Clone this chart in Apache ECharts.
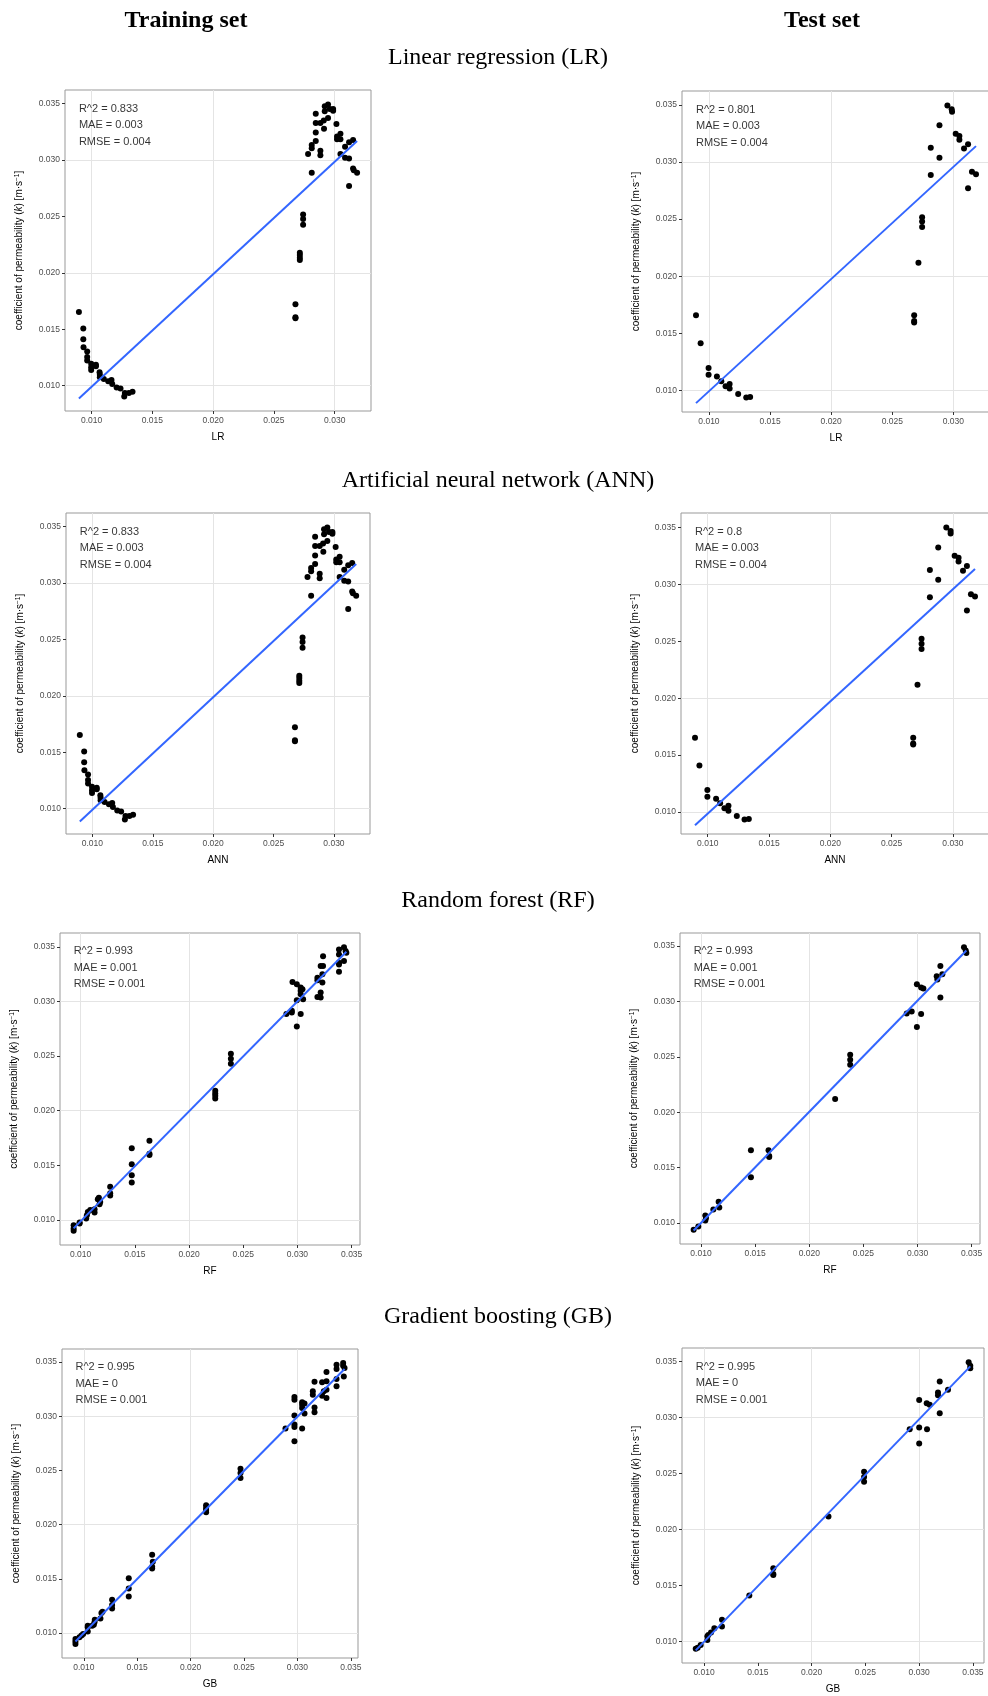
<!DOCTYPE html>
<html>
<head>
<meta charset="utf-8">
<script src="https://cdn.jsdelivr.net/npm/echarts@6/dist/echarts.min.js"></script>
<style>
  html, body { margin: 0; padding: 0; background: #fff; }
  #main { width: 988px; height: 1696px; }
</style>
</head>
<body>
<div id="main"></div>
<script>
// tick values (both axes), minor grid in between
const tickValues = [0.010, 0.015, 0.020, 0.025, 0.030, 0.035];
const minorValues = [0.0075, 0.0125, 0.0175, 0.0225, 0.0275, 0.0325, 0.0375];

const columnTitles = ['Training set', 'Test set'];
const rowTitles = ['Linear regression (LR)', 'Artificial neural network (ANN)', 'Random forest (RF)', 'Gradient boosting (GB)'];
const modelNames = ['LR', 'LR', 'ANN', 'ANN', 'RF', 'RF', 'GB', 'GB'];

// annotation values, train / test for each model
const r2Text = ['0.833', '0.801', '0.833', '0.8', '0.993', '0.993', '0.995', '0.995'];
const maeText = ['0.003', '0.003', '0.003', '0.003', '0.001', '0.001', '0', '0'];
const rmseText = ['0.004', '0.004', '0.004', '0.004', '0.001', '0.001', '0.001', '0.001'];

const fitLow = [0.00886, 0.00888, 0.00886, 0.00884, 0.00922, 0.00931, 0.00921, 0.00922];
const fitHigh = [0.03169, 0.03139, 0.03169, 0.03136, 0.03455, 0.03461, 0.03436, 0.03455];

// [predicted, observed]
const lrTrain = [
  [0.00896,0.01653],[0.00932,0.01507],[0.00932,0.01412],[0.00934,0.01340],[0.00964,0.01304],[0.00964,0.01254],[0.00964,0.01224],
  [0.00997,0.01194],[0.00997,0.01164],[0.00997,0.01140],[0.01036,0.01185],[0.01036,0.01173],[0.01066,0.01120],[0.01068,0.01096],
  [0.01068,0.01075],[0.01101,0.01060],[0.01137,0.01039],[0.01164,0.01051],[0.01170,0.01015],[0.01206,0.00985],[0.01238,0.00976],
  [0.01269,0.00905],[0.01274,0.00935],[0.01307,0.00935],[0.01337,0.00947],
  [0.02677,0.01722],[0.02677,0.01606],[0.02677,0.01597],[0.02713,0.02179],[0.02713,0.02158],[0.02713,0.02134],[0.02713,0.02113],
  [0.02740,0.02516],[0.02740,0.02477],[0.02740,0.02426],
  [0.02781,0.03053],[0.02811,0.02886],[0.02811,0.03133],[0.02811,0.03103],[0.02844,0.03169],[0.02844,0.03243],[0.02844,0.03327],
  [0.02844,0.03410],[0.02882,0.03327],[0.02882,0.03082],[0.02882,0.03041],[0.02910,0.03351],[0.02912,0.03276],[0.02918,0.03431],
  [0.02918,0.03476],[0.02945,0.03372],[0.02945,0.03491],[0.02959,0.03452],[0.02987,0.03452],[0.02987,0.03437],[0.03014,0.03318],
  [0.03019,0.03184],[0.03019,0.03208],[0.03047,0.03232],[0.03047,0.03184],[0.03047,0.03053],[0.03085,0.03118],[0.03085,0.03020],
  [0.03118,0.03157],[0.03118,0.03014],[0.03118,0.02769],[0.03151,0.03178],[0.03151,0.02924],[0.03157,0.02909],[0.03184,0.02886]
];
const lrTest = [
  [0.00894,0.01658],[0.00932,0.01412],[0.00997,0.01196],[0.00997,0.01136],[0.01065,0.01122],[0.01101,0.01080],[0.01136,0.01036],
  [0.01169,0.01056],[0.01169,0.01015],[0.01239,0.00967],[0.01305,0.00938],[0.01337,0.00941],
  [0.02679,0.01658],[0.02679,0.01607],[0.02679,0.01595],[0.02714,0.02117],[0.02744,0.02517],[0.02744,0.02478],[0.02744,0.02431],
  [0.02815,0.03124],[0.02815,0.02887],[0.02886,0.03322],[0.02886,0.03038],[0.02951,0.03494],[0.02986,0.03461],[0.02989,0.03441],
  [0.03019,0.03248],[0.03049,0.03227],[0.03049,0.03195],[0.03087,0.03118],[0.03120,0.03156],[0.03120,0.02771],[0.03152,0.02914],
  [0.03185,0.02893]
];
// ANN training panel shows the same points as LR
const annTrain = lrTrain;
const annTest = [
  [0.00896,0.01653],[0.00932,0.01409],[0.00997,0.01194],[0.00997,0.01134],[0.01068,0.01117],[0.01101,0.01078],[0.01136,0.01034],
  [0.01169,0.01054],[0.01169,0.01012],[0.01237,0.00964],[0.01300,0.00935],[0.01335,0.00938],
  [0.02676,0.01653],[0.02676,0.01603],[0.02676,0.01594],[0.02711,0.02119],[0.02744,0.02522],[0.02744,0.02480],[0.02744,0.02432],
  [0.02812,0.03127],[0.02812,0.02888],[0.02880,0.03324],[0.02880,0.03041],[0.02946,0.03500],[0.02981,0.03470],[0.02981,0.03449],
  [0.03014,0.03252],[0.03046,0.03234],[0.03046,0.03201],[0.03082,0.03121],[0.03114,0.03163],[0.03114,0.02772],[0.03147,0.02915],
  [0.03180,0.02894]
];
const rfTrain = [
  [0.00936,0.00900],[0.00936,0.00921],[0.00936,0.00952],[0.00991,0.00976],[0.00991,0.00967],[0.01052,0.01012],[0.01058,0.01043],
  [0.01067,0.01073],[0.01089,0.01091],[0.01129,0.01067],[0.01129,0.01097],[0.01159,0.01188],[0.01169,0.01203],[0.01175,0.01143],
  [0.01181,0.01164],[0.01273,0.01303],[0.01273,0.01243],[0.01273,0.01224],[0.01472,0.01655],[0.01472,0.01509],[0.01472,0.01409],
  [0.01472,0.01343],[0.01635,0.01724],[0.01635,0.01606],[0.01635,0.01594],[0.02242,0.02182],[0.02242,0.02158],[0.02242,0.02136],
  [0.02242,0.02112],[0.02386,0.02521],[0.02386,0.02476],[0.02386,0.02430],
  [0.02898,0.02885],[0.02948,0.02915],[0.02948,0.02900],[0.02954,0.03179],[0.02994,0.03158],[0.02994,0.03012],[0.02994,0.02770],
  [0.03030,0.03127],[0.03030,0.03097],[0.03030,0.03067],[0.03030,0.02885],[0.03046,0.03112],[0.03052,0.03021],[0.03184,0.03218],
  [0.03184,0.03194],[0.03184,0.03042],[0.03214,0.03082],[0.03214,0.03036],[0.03214,0.03324],[0.03236,0.03415],[0.03236,0.03324],
  [0.03230,0.03249],[0.03230,0.03173],[0.03383,0.03476],[0.03383,0.03430],[0.03383,0.03355],[0.03383,0.03339],[0.03383,0.03273],
  [0.03429,0.03497],[0.03429,0.03370],[0.03444,0.03461],[0.03451,0.03445]
];
const rfTest = [
  [0.00932,0.00937],[0.00975,0.00967],[0.01040,0.01066],[0.01040,0.01021],[0.01046,0.01045],[0.01114,0.01120],[0.01163,0.01192],
  [0.01169,0.01138],[0.01461,0.01656],[0.01461,0.01413],[0.01624,0.01656],[0.01630,0.01605],[0.01630,0.01596],[0.02239,0.02120],
  [0.02378,0.02518],[0.02378,0.02473],[0.02378,0.02428],[0.02900,0.02892],[0.02946,0.02910],[0.02994,0.03156],[0.02994,0.02770],
  [0.03033,0.02886],[0.03033,0.03126],[0.03054,0.03117],[0.03177,0.03228],[0.03183,0.03198],[0.03211,0.03320],[0.03211,0.03036],
  [0.03229,0.03246],[0.03429,0.03491],[0.03445,0.03461],[0.03451,0.03437]
];
const gbTrain = [
  [0.00922,0.00899],[0.00922,0.00921],[0.00922,0.00945],[0.00959,0.00961],[0.00978,0.00976],[0.00994,0.00991],[0.01037,0.01013],
  [0.01037,0.01053],[0.01037,0.01068],[0.01078,0.01068],[0.01094,0.01077],[0.01100,0.01099],[0.01103,0.01123],[0.01156,0.01135],
  [0.01165,0.01184],[0.01175,0.01197],[0.01265,0.01307],[0.01265,0.01258],[0.01265,0.01227],[0.01421,0.01506],[0.01421,0.01411],
  [0.01421,0.01338],[0.01640,0.01721],[0.01646,0.01657],[0.01640,0.01611],[0.01640,0.01595],[0.02145,0.02178],[0.02145,0.02154],
  [0.02145,0.02135],[0.02145,0.02114],[0.02467,0.02515],[0.02467,0.02476],[0.02467,0.02430],
  [0.02888,0.02887],[0.02972,0.03178],[0.02972,0.03153],[0.02972,0.03006],[0.02972,0.02923],[0.02972,0.02902],[0.02972,0.02770],
  [0.03044,0.03129],[0.03044,0.03107],[0.03044,0.03077],[0.03044,0.02887],[0.03066,0.03117],[0.03066,0.03025],[0.03144,0.03230],
  [0.03144,0.03199],[0.03160,0.03319],[0.03160,0.03080],[0.03160,0.03037],[0.03231,0.03313],[0.03231,0.03190],[0.03247,0.03230],
  [0.03272,0.03408],[0.03272,0.03245],[0.03272,0.03169],[0.03272,0.03322],[0.03366,0.03475],[0.03366,0.03436],[0.03366,0.03344],
  [0.03366,0.03276],[0.03428,0.03491],[0.03428,0.03466],[0.03434,0.03368],[0.03441,0.03445]
];
const gbTest = [
  [0.00923,0.00937],[0.00941,0.00946],[0.00969,0.00970],[0.01031,0.01015],[0.01031,0.01048],[0.01040,0.01060],[0.01065,0.01081],
  [0.01096,0.01119],[0.01167,0.01194],[0.01167,0.01134],[0.01421,0.01412],[0.01644,0.01654],[0.01644,0.01603],[0.01644,0.01594],
  [0.02157,0.02117],[0.02488,0.02514],[0.02488,0.02469],[0.02488,0.02425],[0.02912,0.02894],[0.03000,0.03154],[0.03000,0.02909],
  [0.03000,0.02768],[0.03070,0.03127],[0.03073,0.02894],[0.03098,0.03112],[0.03191,0.03321],[0.03175,0.03222],[0.03175,0.03198],
  [0.03191,0.03037],[0.03268,0.03246],[0.03460,0.03491],[0.03475,0.03461],[0.03475,0.03437]
];

const panelData = [lrTrain, lrTest, annTrain, annTest, rfTrain, rfTest, gbTrain, gbTest];

// panel boxes: left, top, width, height (right column runs off the page like the original)
const boxes = [
  [65, 90, 306, 321], [682, 91, 308, 321],
  [66, 513, 304, 321], [681, 513, 308, 321],
  [60, 933, 300, 312], [680, 933, 300, 311],
  [62, 1349, 296, 309], [682, 1348, 302, 315]
];

const sans = '"Liberation Sans", Arial, Helvetica, sans-serif';
const serif = '"Liberation Serif", "Times New Roman", serif';
const majorLine = { color: '#e4e4e4', width: 1, type: 'solid' };
const minorLine = { color: '#f0f0f0', width: 0.8, type: 'solid' };

const grids = [], xAxes = [], yAxes = [], series = [];

panelData.forEach((pts, i) => {
  const xs = pts.map(p => p[0]);
  const ys = pts.map(p => p[1]);
  const xmin = Math.min(...xs), xmax = Math.max(...xs);
  const ymin = Math.min(...ys), ymax = Math.max(...ys);
  // ggplot style 5% expansion
  const xr = [xmin - (xmax - xmin) * 0.05, xmax + (xmax - xmin) * 0.05];
  const yr = [ymin - (ymax - ymin) * 0.05, ymax + (ymax - ymin) * 0.05];
  const within = r => v => v >= r[0] && v <= r[1];
  const xt = tickValues.filter(within(xr)), yt = tickValues.filter(within(yr));
  const xm = minorValues.filter(within(xr)), ym = minorValues.filter(within(yr));

  const b = boxes[i];
  grids.push({
    left: b[0], top: b[1], width: b[2], height: b[3],
    show: true, backgroundColor: '#fff', borderColor: '#999', borderWidth: 1,
    outerBoundsMode: 'none', containLabel: false
  });
  const labelStyle = { fontSize: 8.5, color: '#4d4d4d', fontFamily: sans };
  xAxes.push({
    type: 'value', gridIndex: i, min: xr[0], max: xr[1],
    name: modelNames[i], nameLocation: 'middle', nameGap: 21,
    nameTextStyle: { fontSize: 10, color: '#000', fontFamily: sans },
    axisLine: { show: false },
    axisTick: { show: true, length: 3, customValues: xt, lineStyle: { color: '#333', width: 1 } },
    axisLabel: { customValues: xt, margin: 5, formatter: v => v.toFixed(3), ...labelStyle },
    splitLine: { show: false }
  });
  yAxes.push({
    type: 'value', gridIndex: i, min: yr[0], max: yr[1],
    name: 'coefficient of permeability ({i|k}) [m·s{s|−1}]',
    nameLocation: 'middle', nameGap: 41,
    nameTextStyle: {
      fontSize: 10, color: '#000', fontFamily: sans,
      rich: {
        i: { fontSize: 10, fontStyle: 'italic', color: '#000', fontFamily: sans },
        s: { fontSize: 6.5, verticalAlign: 'top', color: '#000', fontFamily: sans }
      }
    },
    axisLine: { show: false },
    axisTick: { show: true, length: 3, customValues: yt, lineStyle: { color: '#333', width: 1 } },
    axisLabel: { customValues: yt, margin: 5, formatter: v => v.toFixed(3), ...labelStyle },
    splitLine: { show: false }
  });

  const gridLines = [].concat(
    xm.map(v => ({ xAxis: v, lineStyle: minorLine })),
    ym.map(v => ({ yAxis: v, lineStyle: minorLine })),
    xt.map(v => ({ xAxis: v, lineStyle: majorLine })),
    yt.map(v => ({ yAxis: v, lineStyle: majorLine }))
  );
  // background grid, kept under the points
  series.push({
    type: 'scatter', xAxisIndex: i, yAxisIndex: i, data: [], z: 1, silent: true,
    markLine: { z: 1, silent: true, symbol: ['none', 'none'], label: { show: false }, animation: false, data: gridLines }
  });
  series.push({
    type: 'scatter', xAxisIndex: i, yAxisIndex: i, data: pts, z: 10,
    symbolSize: 6, itemStyle: { color: '#000', opacity: 1 }
  });
  series.push({
    type: 'line', xAxisIndex: i, yAxisIndex: i, z: 11, symbol: 'none',
    data: [[xmin, fitLow[i]], [xmax, fitHigh[i]]],
    lineStyle: { color: '#3366ff', width: 2 }
  });
  series.push({
    type: 'scatter', xAxisIndex: i, yAxisIndex: i, z: 12, symbolSize: 0,
    data: [[xmin, ymax]], itemStyle: { color: 'rgba(0,0,0,0)' },
    label: {
      show: true, position: [0, -4], align: 'left', verticalAlign: 'top',
      fontSize: 11, lineHeight: 16.5, color: '#000', fontFamily: sans,
      formatter: () => 'R^2 = ' + r2Text[i] + '\nMAE = ' + maeText[i] + '\nRMSE = ' + rmseText[i]
    }
  });
});

const titleText = (text, x, y, bold) => ({
  type: 'text', x: x, y: y, silent: true,
  style: {
    text: text, fill: '#000', align: 'center', verticalAlign: 'middle',
    font: (bold ? 'bold ' : '') + '24px ' + serif
  }
});
const graphics = [
  titleText(columnTitles[0], 186, 21, true),
  titleText(columnTitles[1], 822, 21, true)
];
rowTitles.forEach((t, r) => {
  graphics.push(titleText(t, 498, boxes[r * 2][1] - 32, false));
});

const chart = echarts.init(document.getElementById('main'), null, { renderer: 'canvas' });
chart.setOption({
  animation: false,
  backgroundColor: '#fff',
  grid: grids,
  xAxis: xAxes,
  yAxis: yAxes,
  series: series,
  graphic: graphics
});
</script>
</body>
</html>
